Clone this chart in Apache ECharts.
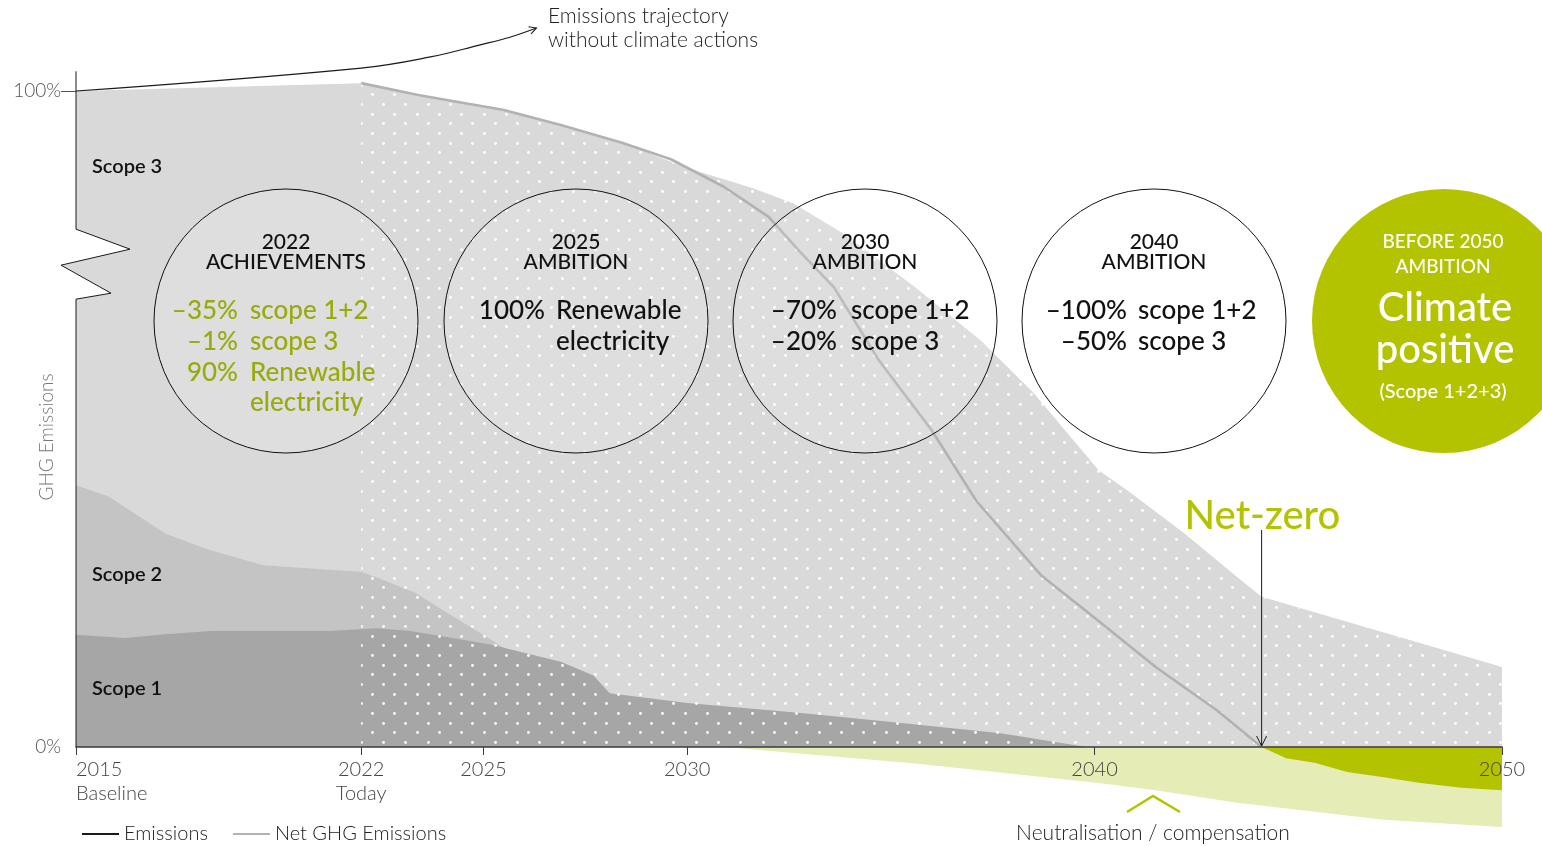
<!DOCTYPE html>
<html>
<head>
<meta charset="utf-8">
<title>GHG emissions trajectory</title>
<script src="https://cdn.jsdelivr.net/npm/echarts@6.0.0/dist/echarts.min.js"></script>
<style>
  html, body { margin: 0; padding: 0; background: #fff; }
  #chart { width: 1542px; height: 846px; }
</style>
</head>
<body>
<div id="chart"></div>
<script>
const xTicks = [2015, 2022, 2025, 2030, 2040, 2050];
const xTickNotes = { 2015: 'Baseline', 2022: 'Today' };
const yLabels = [0, 100];

// top edge of each band (scope 1, scope 1+2, scope 1+2+3)
const scope1Top = [[2015, 17.1], [2016.2, 16.6], [2017.2, 17.2], [2018.3, 17.7], [2021.2, 17.7], [2022.4, 18.1],
  [2023.2, 17.7], [2024, 16.9], [2025.2, 15.6], [2026.3, 13.9], [2026.9, 13.0], [2027.7, 10.9], [2028.1, 8.2],
  [2030, 6.7], [2032.8, 5.2], [2035.2, 3.7], [2037.7, 2.1], [2039.8, 0]];
const scope12Top = [[2015, 39.9], [2015.8, 38.2], [2017.2, 32.5], [2018.3, 30.0], [2019.6, 27.7], [2021.3, 27.0],
  [2022, 26.7], [2022.4, 25.8], [2023.3, 23.6], [2024, 20.9], [2025.2, 16.3], [2025.5, 15.1]];
const totalTop = [[2015, 100], [2022, 101.2], [2023.4, 99.4], [2025.4, 97.4], [2026.9, 94.8], [2028.4, 92.1],
  [2029.6, 89.2], [2030.3, 87.7], [2031.6, 85.2], [2032.6, 82.9], [2033.8, 78.4], [2035.6, 70.1], [2037.2, 62.0],
  [2038.5, 54.0], [2040.1, 42.2], [2040.9, 38.7], [2042.2, 32.6], [2043.5, 25.9], [2044.1, 22.9], [2050, 12.2]];

const netGhg = [[2022, 101.2], [2023.4, 99.4], [2025.5, 97.1], [2026.9, 94.8], [2028.4, 92.1], [2029.6, 89.6],
  [2030.9, 85.4], [2032, 80.8], [2032.8, 75.3], [2033.6, 70.1], [2034.7, 59.0], [2036, 48.3], [2037.1, 37.5],
  [2038.7, 26.1], [2040.1, 19.2], [2041.5, 12.2], [2043, 5.6], [2044.1, 0]];
const noActionEmissions = [[2015, 100], [2022, 103.5], [2023.7, 105.2], [2024.9, 107.0], [2025.65, 108.2], [2026.3, 109.6]];

const neutralisation = [[2030.9, 0], [2035.6, -2.5], [2040.1, -5.5], [2041.5, -6.6], [2043.5, -8.5], [2047.1, -11.1], [2050, -12.2]];
const removalsAfterNetZero = [[2044.1, 0], [2044.7, -1.7], [2045.4, -2.4], [2046.2, -3.8], [2047.1, -4.6], [2048, -5.5],
  [2049, -6.2], [2050, -6.6]];

const goalTitles = [['2022', 'ACHIEVEMENTS'], ['2025', 'AMBITION'], ['2030', 'AMBITION'], ['2040', 'AMBITION']];
const goalLines = [
  [['–35%', 'scope 1+2'], ['–1%', 'scope 3'], ['90%', 'Renewable'], ['', 'electricity']],
  [['100%', 'Renewable'], ['', 'electricity']],
  [['–70%', 'scope 1+2'], ['–20%', 'scope 3']],
  [['–100%', 'scope 1+2'], ['–50%', 'scope 3']]
];
const finalGoal = ['BEFORE 2050', 'AMBITION', 'Climate', 'positive', '(Scope 1+2+3)'];

const FONT = 'Lato';
const GREEN = '#b4c300';

// white dot texture used on the forecast part of the chart
function dotTile() {
  const c = document.createElement('canvas');
  c.width = 67; c.height = 58;
  const g = c.getContext('2d');
  g.fillStyle = '#ffffff';
  const rowsA = [7.5, 27.5, 46.5], rowsB = [17.5, 36.5, 56.5];
  const colsA = [3.5, 26.5, 48.5], colsB = [15.5, 37.5, 59.5];
  function dots(rows, cols) {
    rows.forEach(y => cols.forEach(x => {
      g.beginPath(); g.arc(x, y, 1.4, 0, Math.PI * 2); g.fill();
    }));
  }
  dots(rowsA, colsA); dots(rowsB, colsB);
  return c;
}

function area(name, data, color) {
  return {
    name: name, type: 'line', data: data, symbol: 'none', silent: true, clip: false,
    lineStyle: { width: 0, opacity: 0 },
    areaStyle: { color: color, opacity: 1 }
  };
}

const chart = echarts.init(document.getElementById('chart'));

chart.setOption({
  animation: false,
  textStyle: { fontFamily: FONT },
  grid: { left: 76, right: 40, top: 12.28, bottom: 99, containLabel: false, outerBoundsMode: 'none' },
  legend: {
    left: 76, top: 819, itemWidth: 37, itemHeight: 14, itemGap: 24,
    data: ['Emissions', 'Net GHG Emissions'],
    itemStyle: { opacity: 0 },
    textStyle: { fontSize: 20, color: '#222', fontWeight: 300, fontFamily: FONT }
  },
  xAxis: {
    type: 'value', min: 2015, max: 2050, z: 5,
    splitLine: { show: false },
    axisLine: { lineStyle: { color: '#3a3a3a', width: 1.5 } },
    axisTick: { customValues: xTicks, length: 8, lineStyle: { color: '#3a3a3a' } },
    axisLabel: {
      customValues: xTicks, margin: 11, fontSize: 20, lineHeight: 24, color: '#444', fontWeight: 300,
      alignMinLabel: 'left',
      formatter: v => xTickNotes[v] ? v + '\n' + xTickNotes[v] : String(v)
    }
  },
  yAxis: {
    type: 'value', min: 0, max: 112,
    splitLine: { show: false },
    axisLine: { show: false },
    axisTick: { show: true, customValues: [100], length: 15, lineStyle: { color: '#555' } },
    axisLabel: {
      customValues: yLabels, margin: 15, fontSize: 19, color: '#555', fontWeight: 300,
      formatter: v => v + '%'
    }
  },
  series: [
    area('Scope 3', totalTop, '#d9d9d9'),
    area('Scope 2', scope12Top, '#c4c4c4'),
    area('Scope 1', scope1Top, '#a6a6a6'),
    area('forecast', totalTop.filter(p => p[0] >= 2022), { image: dotTile(), repeat: 'repeat' }),
    area('Neutralisation', neutralisation, '#e5ecb5'),
    area('Removals', removalsAfterNetZero, GREEN),
    {
      name: 'Net GHG Emissions', type: 'line', data: netGhg, symbol: 'none', clip: false,
      lineStyle: { color: '#b2b2b2', width: 2.6 }, itemStyle: { color: '#b2b2b2' }
    },
    {
      name: 'Emissions', type: 'line', data: noActionEmissions, symbol: 'none', smooth: 0.4, clip: false,
      lineStyle: { color: '#1a1a1a', width: 1.2 }, itemStyle: { color: '#1a1a1a' }
    }
  ]
});

// ---- annotations ----
const px = p => chart.convertToPixel({ gridIndex: 0 }, p);

function txt(x, y, text, size, weight, color, align, extra) {
  return Object.assign({
    type: 'text', x: x, y: y, z: 20,
    style: {
      text: text, fill: color, fontSize: size, fontWeight: weight, fontFamily: FONT,
      textAlign: align || 'left', textVerticalAlign: 'middle', align: align || 'left', verticalAlign: 'middle'
    }
  }, extra || {});
}

const g = [];
const origin = px([2015, 0]);
const ax = origin[0], y0 = origin[1];
const axTop = px([2015, 103])[1];
const brk = px([2015, 73.6])[1];

// vertical axis with the break mark
g.push({ type: 'polygon', z: 15, shape: { points: [[ax, brk - 35], [ax + 54, brk - 15], [ax, brk - 2.5]] }, style: { fill: '#fff' } });
g.push({ type: 'polygon', z: 15, shape: { points: [[ax, brk + 9.4], [ax + 35, brk + 29], [ax, brk + 35]] }, style: { fill: '#fff' } });
g.push({ type: 'polygon', z: 15, shape: { points: [[ax, brk - 2.5], [ax - 15, brk + 1], [ax, brk + 9.4]] }, style: { fill: '#d9d9d9' } });
g.push({
  type: 'polyline', z: 16,
  shape: { points: [[ax, axTop], [ax, brk - 35], [ax + 54, brk - 15], [ax - 15, brk + 1], [ax + 35, brk + 29], [ax, brk + 35], [ax, y0]] },
  style: { stroke: '#1a1a1a', lineWidth: 1, fill: null }
});

// goal circles
const circleX = [286, 576, 865, 1154];
const pctRight = [-48, -31, -28, -27];
const wordLeft = [-36, -20, -14, -16];
const cy = 321, r = 132;
goalTitles.forEach((t, i) => {
  const cx = circleX[i];
  g.push({
    type: 'circle', z: 12, shape: { cx: cx, cy: cy, r: r },
    style: { fill: i === 3 ? '#fff' : 'rgba(255,255,255,0.13)', stroke: '#111', lineWidth: 1 }
  });
  g.push(txt(cx, 242, t[0], 21, 500, '#111', 'center'));
  g.push(txt(cx, 262, t[1], 21, 500, '#111', 'center'));
  const col = i === 0 ? '#9aaa0c' : '#111';
  goalLines[i].forEach((ln, j) => {
    const y = 311 + j * 30.7;
    if (ln[0]) g.push(txt(cx + pctRight[i], y, ln[0], 26, 500, col, 'right'));
    g.push(txt(cx + wordLeft[i], y, ln[1], 26, 500, col, 'left'));
  });
});
g.push({ type: 'circle', z: 12, shape: { cx: 1444, cy: cy, r: r }, style: { fill: GREEN } });
g.push(txt(1443, 242, finalGoal[0], 19, 500, '#fff', 'center'));
g.push(txt(1443, 267, finalGoal[1], 19, 500, '#fff', 'center'));
g.push(txt(1445, 308, finalGoal[2], 40, 500, '#fff', 'center'));
g.push(txt(1445, 350, finalGoal[3], 40, 500, '#fff', 'center'));
g.push(txt(1443, 392, finalGoal[4], 20, 500, '#fff', 'center'));

// scope labels
g.push(txt(92, 167, 'Scope 3', 20, 600, '#111'));
g.push(txt(92, 575, 'Scope 2', 20, 600, '#111'));
g.push(txt(92, 689, 'Scope 1', 20, 600, '#111'));

// y axis name
g.push(txt(47, 437, 'GHG Emissions', 19, 300, '#777', 'center', { rotation: Math.PI / 2 }));

// trajectory without action: arrow head + label
const e1 = px(noActionEmissions[noActionEmissions.length - 2]);
const e2 = px(noActionEmissions[noActionEmissions.length - 1]);
const ang = Math.atan2(e2[1] - e1[1], e2[0] - e1[0]);
const hl = 8, ha = 0.5;
g.push({
  type: 'polyline', z: 16,
  shape: { points: [
    [e2[0] - hl * Math.cos(ang - ha), e2[1] - hl * Math.sin(ang - ha)], e2,
    [e2[0] - hl * Math.cos(ang + ha), e2[1] - hl * Math.sin(ang + ha)]] },
  style: { stroke: '#1a1a1a', lineWidth: 1.1, fill: null }
});
g.push(txt(548, 16, 'Emissions trajectory', 21, 300, '#222'));
g.push(txt(548, 40, 'without climate actions', 21, 300, '#222'));

// net-zero marker
const nz = px(netGhg[netGhg.length - 1]);
g.push({ type: 'line', z: 16, shape: { x1: nz[0], y1: nz[1] - 217, x2: nz[0], y2: nz[1] - 1 }, style: { stroke: '#1a1a1a', lineWidth: 1 } });
g.push({
  type: 'polyline', z: 16,
  shape: { points: [[nz[0] - 5, nz[1] - 11], [nz[0], nz[1] - 1], [nz[0] + 5, nz[1] - 11]] },
  style: { stroke: '#1a1a1a', lineWidth: 1, fill: null }
});
g.push(txt(nz[0] - 77, nz[1] - 231, 'Net-zero', 40, 500, GREEN));

// neutralisation label
g.push({
  type: 'polyline', z: 16,
  shape: { points: [[1127, 812], [1153, 796], [1180, 812]] },
  style: { stroke: GREEN, lineWidth: 2.5, fill: null }
});
g.push(txt(1153, 833, 'Neutralisation / compensation', 21, 300, '#222', 'center'));

chart.setOption({ graphic: { elements: g } });
</script>
</body>
</html>
